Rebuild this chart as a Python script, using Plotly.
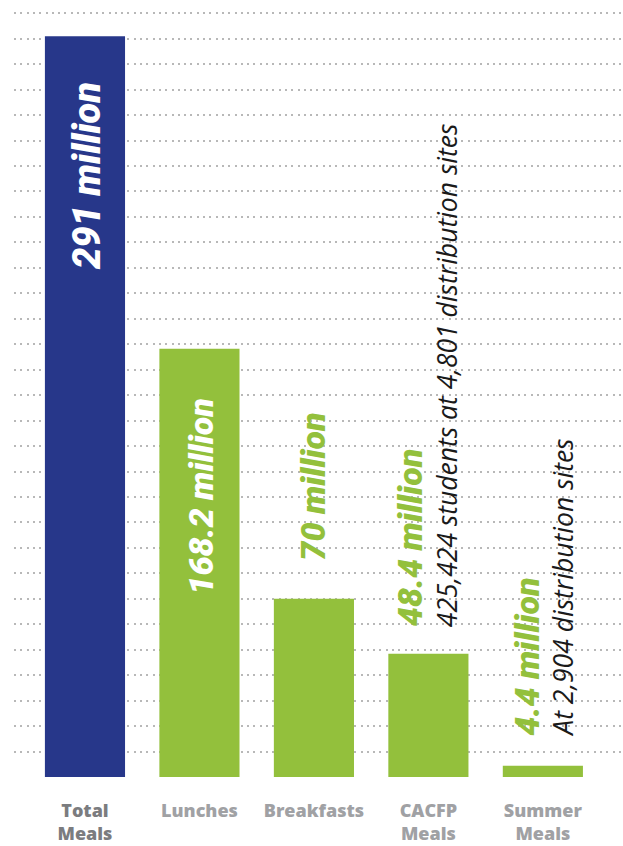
import plotly.graph_objects as go

# Meals served, in millions
categories = ["Total Meals", "Lunches", "Breakfasts", "CACFP Meals", "Summer Meals"]
tick_labels = ["Total<br>Meals", "Lunches", "Breakfasts", "CACFP<br>Meals", "Summer<br>Meals"]
meals_millions = [291, 168.2, 70, 48.4, 4.4]
value_labels = ["291 million", "168.2 million", "70 million", "48.4 million", "4.4 million"]
site_notes = ["", "", "", "425,424 students at 4,801 distribution sites", "At 2,904 distribution sites"]

BLUE = "#27378a"
GREEN = "#93c03c"
GRID = "#b8b8b8"
LABEL_GRAY = "#a0a1a4"
TOTAL_GRAY = "#7b7c7f"

x_idx = list(range(len(categories)))
bar_colors = [BLUE] + [GREEN] * (len(categories) - 1)

fig = go.Figure()
fig.add_trace(go.Bar(
    x=x_idx, y=meals_millions, width=0.7,
    marker=dict(color=bar_colors, line=dict(width=0)),
    hoverinfo="skip",
))

# baseline rule under the bars
fig.add_shape(type="rect", xref="paper", yref="y", x0=0.0, x1=0.987,
              y0=0, y1=-2.1, fillcolor="#666666", line=dict(width=0), layer="above")

BIG = dict(family="Roboto", size=34, weight=900, style="italic")
NOTE = dict(family="Open Sans", size=26.5, color="#1a1a1a", style="italic")

# value labels: inside the two tall bars, above the short ones
inside = [True, True, False, False, False]
label_dx = [2, 2, -1, -19, -16]
label_dy = [-44, -47, 36, 26, 28]
note_dx = [0, 0, 0, 18, 20]
note_dy = [0, 0, 0, 25, 27]
for i, v in enumerate(meals_millions):
    fig.add_annotation(
        x=i, y=v, text=value_labels[i], textangle=-90, showarrow=False,
        xanchor="center", yanchor="top" if inside[i] else "bottom",
        xshift=label_dx[i], yshift=label_dy[i],
        font=dict(BIG, size=38 if i == 0 else 34, color="white" if inside[i] else GREEN),
    )
    if site_notes[i]:
        fig.add_annotation(
            x=i, y=v, text=site_notes[i], textangle=-90, showarrow=False,
            xanchor="center", yanchor="bottom",
            xshift=note_dx[i], yshift=note_dy[i], font=NOTE,
        )

ticktext = [f"<span style='color:{TOTAL_GRAY}'>{tick_labels[0]}</span>"] + tick_labels[1:]

fig.update_layout(
    width=623, height=846,
    margin=dict(l=14, r=0, t=0, b=69),
    paper_bgcolor="white", plot_bgcolor="white",
    showlegend=False, bargap=0.3,
    xaxis=dict(
        range=[-0.62, 4.70], tickvals=x_idx, ticktext=ticktext,
        tickfont=dict(family="Open Sans", size=18, color=LABEL_GRAY, weight=800),
        showgrid=False, zeroline=False, showline=False, ticks="",
        ticklabelstandoff=21, fixedrange=True, automargin=False,
    ),
    yaxis=dict(
        range=[0, 305.2], dtick=10, tick0=0, showticklabels=False,
        showgrid=True, gridcolor=GRID, gridwidth=1.6, griddash="2px,4.3px",
        zeroline=False, showline=False, ticks="", fixedrange=True, automargin=False,
    ),
)

fig.write_html("out.html")
